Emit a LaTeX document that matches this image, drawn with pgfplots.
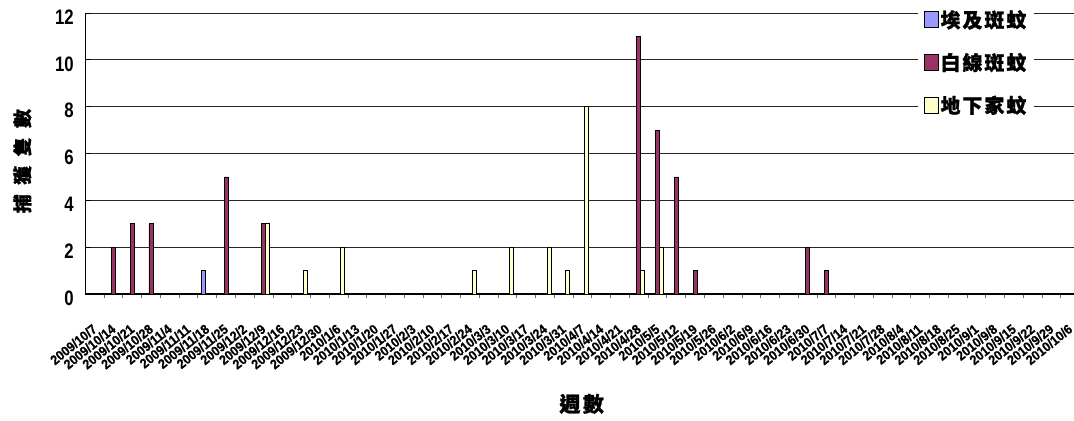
\documentclass[border=0pt]{standalone}
\usepackage{pgfplots}
\pgfplotsset{compat=1.18}
\usepackage{fontspec}
\setmainfont{Liberation Sans}[FakeStretch=0.8]
\newfontfamily\tickfont{Liberation Sans}[FakeStretch=0.92, FakeBold=0.8]
\newfontfamily\cjk{Noto Sans CJK TC}[LetterSpace=10, FakeBold=1.2]
\newfontfamily\cjkx{Noto Sans CJK TC}[LetterSpace=12, FakeBold=1.2]
\newfontfamily\cjkwide{Noto Sans CJK TC}[LetterSpace=50, FakeBold=1.2]
\definecolor{cBlue}{HTML}{9999FF}
\definecolor{cMaroon}{HTML}{993366}
\definecolor{cYellow}{HTML}{FFFFCC}
\begin{document}
\begin{tikzpicture}
\begin{axis}[
  scale only axis,
  width=988.7bp, height=281bp,
  xmin=-0.5, xmax=52.2,
  ymin=0, ymax=12,
  ytick={0,2,...,12},
  xtick={0,...,52},
  xticklabels={2009/10/7,2009/10/14,2009/10/21,2009/10/28,2009/11/4,2009/11/11,2009/11/18,2009/11/25,2009/12/2,2009/12/9,2009/12/16,2009/12/23,2009/12/30,2010/1/6,2010/1/13,2010/1/20,2010/1/27,2010/2/3,2010/2/10,2010/2/17,2010/2/24,2010/3/3,2010/3/10,2010/3/17,2010/3/24,2010/3/31,2010/4/7,2010/4/14,2010/4/21,2010/4/28,2010/5/5,2010/5/12,2010/5/19,2010/5/26,2010/6/2,2010/6/9,2010/6/16,2010/6/23,2010/6/30,2010/7/7,2010/7/14,2010/7/21,2010/7/28,2010/8/4,2010/8/11,2010/8/18,2010/8/25,2010/9/1,2010/9/8,2010/9/15,2010/9/22,2010/9/29,2010/10/6},
  minor xtick={0.5,1.5,...,51.5},
  major x tick style={draw=none},
  minor x tick style={black!60, line width=0.8bp},
  minor tick length=4bp,
  major tick length=6bp,
  tick align=inside,
  y tick style={black, line width=0.8bp},
  ymajorgrids,
  major grid style={black!85, line width=0.8bp},
  axis x line*=bottom, axis y line*=left,
  axis line style={-, black, line width=1.2bp},
  /pgf/number format/assume math mode=true,
  yticklabel style={font=\bfseries\fontsize{21}{21}\selectfont, xshift=-8bp, yshift=-4bp},
  xticklabel style={font=\tickfont\bfseries\fontsize{13.5}{13.5}\selectfont, xshift=-3bp, yshift=-23bp, rotate=39, anchor=north east, inner sep=0pt},
  ybar=0pt, bar width=4bp,
  every axis plot/.append style={draw=black, line width=0.6bp},
  ylabel={\cjkwide\bfseries\fontsize{19}{19}\selectfont 捕獲隻數},
  every axis y label/.style={at={(axis description cs:-0.0637,0.473)}, rotate=90, anchor=center},
  xlabel={\cjkx\bfseries\fontsize{21}{21}\selectfont 週數},
  every axis x label/.style={at={(axis description cs:0.502,-0.391)}, anchor=center},
  legend style={at={(axis description cs:0.842,1.032)}, anchor=north west, draw=none, fill=white,
    font=\cjk\bfseries\fontsize{20}{20}\selectfont, row sep=20bp, inner xsep=6bp, inner ysep=4bp,
    /tikz/every even column/.append style={column sep=0bp}},
  legend cell align=left,
  legend image code/.code={\draw[#1, draw=black, line width=0.6bp] (0bp,-8bp) rectangle (14bp,8bp);},
]
\addplot[fill=cBlue] coordinates {(6,1)};
\addplot[fill=cMaroon] coordinates {(1,2) (2,3) (3,3) (7,5) (9,3) (29,11) (30,7) (31,5) (32,1) (38,2) (39,1)};
\addplot[fill=cYellow] coordinates {(9,3) (11,1) (13,2) (20,1) (22,2) (24,2) (25,1) (26,8) (29,1) (30,2)};
\legend{埃及斑蚊,白線斑蚊,地下家蚊}
\end{axis}
\pgfresetboundingbox
\path[use as bounding box] (-85.3bp,-127bp) rectangle (988.7bp,294bp);
\end{tikzpicture}
\end{document}
